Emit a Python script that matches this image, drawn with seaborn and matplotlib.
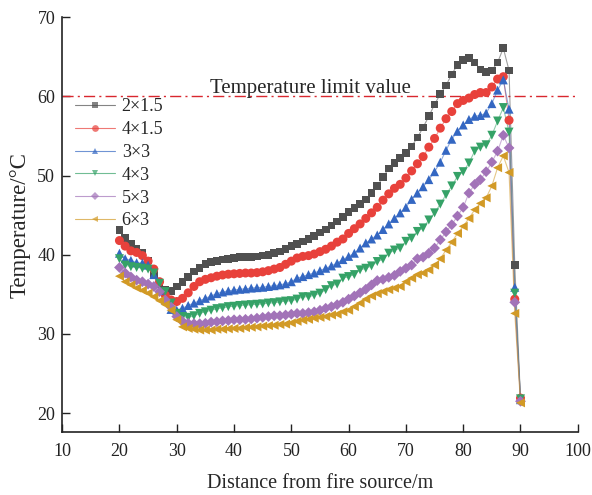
import matplotlib
matplotlib.use("Agg")
import matplotlib.pyplot as plt
import seaborn as sns
import pandas as pd

distance = list(range(20, 91))

t_2x15 = [43.1, 42.1, 41.4, 40.8, 40.2, 39.3, 37.5, 36.3, 35.6, 35.4, 36.0, 36.6, 37.2, 37.9, 38.3,
          38.8, 39.1, 39.2, 39.4, 39.5, 39.6, 39.7, 39.75, 39.7, 39.8, 39.9, 40.0, 40.2, 40.4, 40.7,
          41.1, 41.4, 41.7, 42.0, 42.4, 42.8, 43.2, 43.7, 44.2, 44.8, 45.4, 45.9, 46.4, 47.0, 47.8,
          48.7, 49.8, 50.9, 51.6, 52.2, 52.9, 53.7, 54.8, 56.1, 57.5, 59.0, 60.3, 61.4, 62.8, 64.0,
          64.6, 64.9, 64.3, 63.4, 63.1, 63.3, 64.3, 66.1, 63.3, 38.7, 21.7]
t_4x15 = [41.8, 41.1, 40.5, 40.3, 39.9, 39.2, 38.2, 36.6, 34.9, 34.3, 34.1, 34.5, 35.2, 36.0, 36.6,
          36.9, 37.1, 37.3, 37.45, 37.55, 37.6, 37.65, 37.7, 37.7, 37.75, 37.85, 38.0, 38.2, 38.4, 38.8,
          39.2, 39.6, 39.8, 39.9, 40.1, 40.4, 40.7, 41.1, 41.6, 42.0, 42.7, 43.3, 43.9, 44.6, 45.3,
          46.0, 46.9, 47.7, 48.4, 48.9, 49.7, 50.6, 51.5, 52.4, 53.6, 54.7, 56.0, 57.2, 58.1, 59.1,
          59.5, 59.8, 60.25, 60.5, 60.5, 61.2, 62.2, 62.5, 57.0, 34.4, 21.9]
t_3x3 = [40.2, 39.5, 39.3, 39.0, 38.95, 38.7, 37.5, 35.5, 34.3, 33.1, 33.0, 33.25, 33.6, 33.9, 34.2,
         34.5, 34.8, 35.1, 35.3, 35.45, 35.55, 35.65, 35.7, 35.8, 35.85, 35.9, 36.0, 36.1, 36.2, 36.35,
         36.6, 37.05, 37.25, 37.5, 37.7, 38.0, 38.3, 38.6, 38.95, 39.4, 39.8, 40.2, 40.85, 41.5, 42.0,
         42.5, 43.2, 43.9, 44.6, 45.3, 46.0, 47.0, 47.8, 48.6, 49.5, 50.5, 51.7, 53.2, 54.6, 55.6,
         56.4, 57.1, 57.5, 57.6, 57.9, 59.1, 60.8, 62.1, 58.4, 35.9, 21.7]
t_4x3 = [39.5, 38.7, 38.5, 38.4, 38.3, 38.2, 37.7, 36.4, 35.35, 33.9, 32.6, 32.2, 32.1, 32.3, 32.6,
         32.8, 33.0, 33.2, 33.3, 33.45, 33.5, 33.6, 33.65, 33.7, 33.75, 33.8, 33.9, 33.95, 34.05, 34.15,
         34.2, 34.4, 34.7, 34.7, 34.9, 35.15, 35.6, 36.1, 36.3, 37.05, 37.25, 37.5, 38.1, 38.3, 38.6,
         39.15, 39.45, 40.2, 40.6, 40.85, 41.7, 42.1, 42.95, 43.4, 44.4, 45.3, 46.4, 47.6, 48.7, 49.9,
         50.5, 51.6, 53.1, 53.6, 53.9, 55.1, 56.9, 58.6, 55.5, 35.15, 21.8]
t_5x3 = [38.4, 37.7, 37.2, 36.8, 36.6, 36.3, 36.0, 35.35, 34.3, 33.4, 32.2, 31.6, 31.35, 31.3, 31.3,
         31.35, 31.5, 31.55, 31.65, 31.7, 31.8, 31.8, 31.85, 31.9, 32.0, 32.1, 32.2, 32.3, 32.3, 32.4,
         32.5, 32.6, 32.6, 32.7, 32.8, 33.0, 33.25, 33.45, 33.7, 34.0, 34.4, 34.8, 35.2, 35.65, 36.2,
         36.75, 36.9, 37.15, 37.4, 37.9, 38.3, 38.7, 39.5, 39.7, 40.2, 40.85, 41.9, 42.9, 43.8, 44.9,
         46.0, 47.8, 48.9, 49.5, 50.5, 51.7, 53.1, 55.1, 53.5, 34.0, 21.5]
t_6x3 = [37.3, 36.6, 36.2, 35.8, 35.5, 35.15, 34.7, 34.2, 33.7, 33.0, 31.8, 30.9, 30.7, 30.6, 30.5,
         30.5, 30.5, 30.6, 30.6, 30.65, 30.7, 30.7, 30.8, 30.85, 30.9, 31.0, 31.05, 31.1, 31.2, 31.25,
         31.4, 31.6, 31.75, 31.85, 32.0, 32.1, 32.2, 32.4, 32.5, 32.8, 33.0, 33.45, 33.9, 34.4, 34.8,
         35.1, 35.35, 35.6, 35.8, 36.0, 36.6, 37.05, 37.5, 37.7, 38.1, 38.7, 39.5, 40.6, 41.6, 42.7,
         43.6, 44.6, 45.7, 46.5, 47.2, 48.7, 51.0, 52.5, 50.4, 32.6, 21.3]

labels = ["2×1.5", "4×1.5", "3×3", "4×3", "5×3", "6×3"]
series = [t_2x15, t_4x15, t_3x3, t_4x3, t_5x3, t_6x3]
limit_value = 60
limit_label = "Temperature limit value"

colors = ["#505050", "#e8413b", "#3467c2", "#35a267", "#a273b8", "#d29a26"]
markers = ["s", "o", "^", "v", "D", "<"]
msizes = [5.5, 6.5, 6.5, 6.5, 5.5, 6.5]

sns.set_style("ticks")
plt.rcParams["font.family"] = ["Liberation Serif", "DejaVu Serif"]
plt.rcParams["mathtext.fontset"] = "stix"

fig = plt.figure(figsize=(5.92, 4.95), dpi=100)
ax = fig.add_axes([0.105, 0.127, 0.871, 0.838])

ax.axhline(limit_value, color="#d9272e", lw=1.0, dashes=(8, 3, 1.5, 3), zorder=1)
ax.text(53.3, limit_value + 0.4, limit_label, ha="center", va="baseline", fontsize=15)

for lab, ys, c, m, ms in zip(labels, series, colors, markers, msizes):
    df = pd.DataFrame({"x": distance, "y": ys})
    sns.lineplot(data=df, x="x", y="y", ax=ax, color=c, lw=0.8, alpha=0.55,
                 label=None, legend=False, zorder=2)
    sns.scatterplot(data=df, x="x", y="y", ax=ax, color=c, marker=m, s=ms ** 2,
                    edgecolor="none", linewidth=0, legend=False, zorder=3)
    ax.plot([], [], color=c, lw=0.8, marker=m, markersize=ms * 0.75,
            markeredgewidth=0, label=lab, alpha=1.0)

ax.set_xlim(10, 100)
ax.set_ylim(17.6, 70)
ax.set_xticks(range(10, 101, 10))
ax.set_yticks(range(20, 71, 10))
ax.tick_params(direction="in", length=6, width=1, labelsize=13, colors="#222222",
               labelcolor="#222222")
ax.tick_params(axis="x", pad=8)
ax.tick_params(axis="y", pad=5)
for s in ["top", "right"]:
    ax.spines[s].set_visible(False)
for s in ["left", "bottom"]:
    ax.spines[s].set_linewidth(1.2)
    ax.spines[s].set_color("#222222")

ax.set_xlabel("Distance from fire source/m", fontsize=14.5, labelpad=10)
ax.set_ylabel("Temperature/°C", fontsize=16.5, labelpad=5)

leg = ax.legend(loc="upper left", bbox_to_anchor=(0.0, 0.835), frameon=False,
                fontsize=13, handlelength=2.2, labelspacing=0.32, borderaxespad=0.3,
                handletextpad=0.4)
for lh in leg.get_lines():
    lh.set_alpha(0.7)

fig.savefig("out.png", dpi=100)
